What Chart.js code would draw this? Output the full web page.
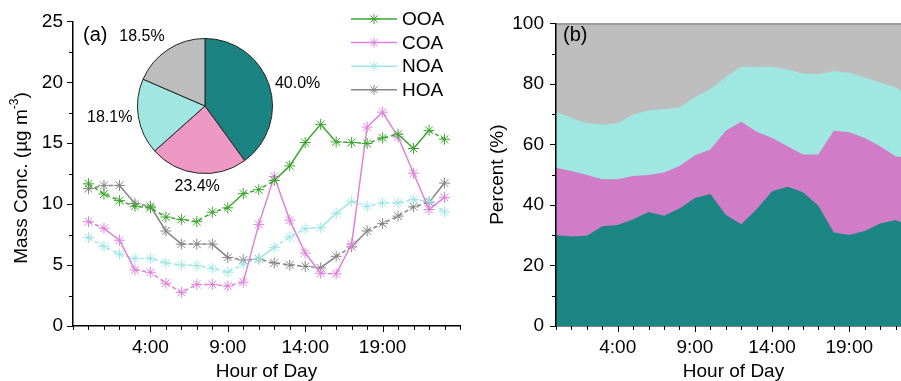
<!DOCTYPE html>
<html><head><meta charset="utf-8">
<script src="https://cdn.jsdelivr.net/npm/chart.js@4.4.1/dist/chart.umd.min.js"></script>
<style>
html,body{margin:0;padding:0;background:#fff;overflow:hidden;width:901px;height:381px;position:relative;}
canvas{position:absolute;display:block}
</style></head><body>
<canvas id="cA" width="470" height="381" style="left:0;top:0"></canvas>
<canvas id="cP" width="138" height="138" style="left:136px;top:37px"></canvas>
<canvas id="cB" width="441" height="381" style="left:480px;top:0"></canvas>
<script>
// ---------- data ----------
const hours = [0,1,2,3,4,5,6,7,8,9,10,11,12,13,14,15,16,17,18,19,20,21,22,23];
const xTickHours = [4,9,14,19];
const seriesNames = ['OOA','COA','NOA','HOA'];
// panel (a): mass concentrations (µg m-3)
const ooa = [11.67,10.83,10.29,9.83,9.70,8.94,8.75,8.56,9.34,9.70,10.86,11.19,11.94,13.14,15.06,16.55,15.11,15.06,14.98,15.44,15.74,14.57,16.06,15.33];
const coa = [8.56,8.02,7.04,4.60,4.41,3.52,2.76,3.41,3.41,3.28,3.60,8.34,12.27,8.69,5.99,4.33,4.28,6.72,16.33,17.55,15.52,12.54,9.56,10.56];
const noa = [7.26,6.53,5.90,5.55,5.55,5.17,5.01,4.96,4.74,4.41,5.09,5.50,6.45,7.31,7.99,8.07,9.24,10.24,9.83,10.10,10.10,10.37,10.24,9.37];
const hoa = [11.27,11.54,11.54,10.05,9.83,7.80,6.72,6.72,6.72,5.63,5.42,5.50,5.17,5.01,4.90,4.77,5.72,6.50,7.80,8.40,9.02,9.78,10.16,11.73];
// pie (average fractions, %)
const pieValues = [40.0, 23.4, 18.1, 18.5];
// panel (b): percent contributions (%)
const pctOOA = [30.1,29.6,29.8,33.0,33.4,35.3,37.7,36.4,38.8,42.3,43.6,36.8,33.6,38.6,44.5,46.0,44.2,39.7,30.9,30.1,31.4,33.9,35.0,33.0];
const pctCOA = [22.2,21.6,20.1,15.5,15.1,14.3,12.2,14.3,14.1,14.1,14.7,27.7,33.9,25.6,17.6,13.4,12.5,17.0,33.6,33.9,30.7,25.5,21.1,22.3];
const pctNOA = [18.4,17.6,17.1,18.1,18.5,20.3,21.4,21.0,19.3,19.2,20.0,17.8,18.2,21.4,23.6,25.4,26.7,26.5,19.8,19.7,20.0,21.1,22.8,20.0];
const pctHOA = [29.3,31.2,33.0,33.4,33.0,30.1,28.7,28.3,27.8,24.4,21.7,17.7,14.3,14.4,14.3,15.2,16.6,16.8,15.7,16.3,17.9,19.5,21.1,24.7];

// ---------- styles ----------
const FONT = "'Liberation Sans', Arial, sans-serif";
const lineColors = ['#3ba62c','#df82dc','#9fe6e6','#858585'];
const pieColors = ['#1b8482','#ee98c4','#a2e6e2','#bdbdbd'];
const areaColors = ['#1b8683','#d07cc7','#a0e6e1','#bebebe'];
Chart.defaults.font.family = FONT;
Chart.defaults.color = '#000';

function range(a,b,s){const r=[];for(let v=a;v<=b+1e-9;v+=s)r.push(Math.round(v*100)/100);return r;}

const tickPlugin = {
  id:'axisTicks',
  afterDraw(chart, args, o){
    const ctx=chart.ctx, xs=chart.scales.x, ys=chart.scales.y;
    ctx.save(); ctx.strokeStyle='#000'; ctx.lineWidth=1; ctx.setLineDash([]);
    ctx.beginPath();
    o.xMinor.forEach(v=>{const px=Math.round(xs.getPixelForValue(v))+0.5;const len=o.xMajor.includes(v)?6:4;ctx.moveTo(px,xs.top);ctx.lineTo(px,xs.top+len);});
    o.yMinor.forEach(v=>{const py=Math.round(ys.getPixelForValue(v))+0.5;const len=(Math.abs(v/o.yMajorStep-Math.round(v/o.yMajorStep))<1e-6)?6:4;ctx.moveTo(ys.right,py);ctx.lineTo(ys.right-len,py);});
    ctx.stroke();
    if(o.topLine){ctx.strokeStyle='#666';ctx.beginPath();ctx.moveTo(chart.chartArea.left,chart.chartArea.top+0.5);ctx.lineTo(chart.chartArea.right,chart.chartArea.top+0.5);ctx.stroke();}
    ctx.font='20px '+FONT; ctx.fillStyle='#000'; ctx.textBaseline='middle'; ctx.textAlign='left';
    ctx.fillText(o.panel, o.panelX, 35);
    ctx.restore();
  }
};

// ---------- pie ----------
const pieChart = new Chart(document.getElementById('cP'), {
  type:'pie',
  data:{labels:seriesNames, datasets:[{data:pieValues, backgroundColor:pieColors, borderColor:'#222', borderWidth:1}]},
  options:{responsive:false, animation:false, layout:{padding:1},
    plugins:{legend:{display:false}, tooltip:{enabled:false}}}
});

// ---------- panel (a) ----------
const aExtras = {
  id:'aExtras',
  afterDraw(chart){
    const ctx=chart.ctx;
    ctx.save();
    // y title with superscript
    ctx.fillStyle='#000'; ctx.translate(22,178); ctx.rotate(-Math.PI/2);
    const main='Mass Conc. (µg m', sup='-3', end=')';
    ctx.font='19px '+FONT; const w1=ctx.measureText(main).width, w3=ctx.measureText(end).width;
    ctx.font='12px '+FONT; const w2=ctx.measureText(sup).width;
    let x=-(w1+w2+w3)/2; ctx.textBaseline='middle'; ctx.textAlign='left';
    ctx.font='19px '+FONT; ctx.fillText(main,x,0); x+=w1;
    ctx.font='12px '+FONT; ctx.fillText(sup,x,-7); x+=w2;
    ctx.font='19px '+FONT; ctx.fillText(end,x,0);
    ctx.restore();
    // legend
    ctx.save();
    chart.data.datasets.forEach((ds,i)=>{
      const y=19+i*23.6;
      ctx.strokeStyle=ds.borderColor; ctx.fillStyle=ds.borderColor; ctx.lineWidth=1.5; ctx.setLineDash([]);
      ctx.beginPath(); ctx.moveTo(351,y); ctx.lineTo(397,y); ctx.stroke();
      ctx.lineWidth=1;
      Chart.helpers.drawPoint(ctx,{pointStyle:'star',radius:5,rotation:0,borderWidth:1},374,y);
      ctx.fillStyle='#000'; ctx.font='19px '+FONT; ctx.textBaseline='middle'; ctx.textAlign='left';
      ctx.fillText(ds.label,402,y+1);
    });
    // pie labels from pie geometry
    const pc=document.getElementById('cP'), ac=chart.canvas;
    const ox=pc.offsetLeft-ac.offsetLeft, oy=pc.offsetTop-ac.offsetTop;
    const meta=pieChart.getDatasetMeta(0);
    ctx.font='16px '+FONT; ctx.fillStyle='#000';
    meta.data.forEach((arc,i)=>{
      const p=arc.getProps(['x','y','startAngle','endAngle','outerRadius'],true);
      const mid=(p.startAngle+p.endAngle)/2, c=Math.cos(mid), s=Math.sin(mid);
      const r=p.outerRadius+6;
      const lx=ox+p.x+c*r, ly=oy+p.y+s*r;
      ctx.textAlign = c>0.3?'left':(c<-0.3?'right':'center');
      ctx.textBaseline = s>0.5?'top':(s<-0.5?'bottom':'middle');
      ctx.fillText(pieValues[i].toFixed(1)+'%', lx, ly);
    });
    ctx.restore();
  }
};

const mk = (name,vals,col)=>({
  label:name, data:hours.map((h,i)=>({x:h,y:vals[i]})),
  borderColor:col, backgroundColor:col, pointBorderColor:col, pointBackgroundColor:col,
  pointStyle:'star', pointRadius:5.5, pointBorderWidth:1, borderWidth:1.5, tension:0,
  segment:{borderDash:c=>Math.abs(c.p1.parsed.y-c.p0.parsed.y)<0.9?[4,3]:undefined}
});

new Chart(document.getElementById('cA'), {
  type:'line',
  data:{datasets:[mk('OOA',ooa,lineColors[0]),mk('COA',coa,lineColors[1]),mk('NOA',noa,lineColors[2]),mk('HOA',hoa,lineColors[3])]},
  options:{responsive:false, animation:false,
    layout:{padding:{left:0,top:18,right:10,bottom:0}},
    plugins:{legend:{display:false},tooltip:{enabled:false},
      axisTicks:{xMinor:range(-1,24,1),xMajor:xTickHours,yMinor:range(0,25,2.5),yMajorStep:5,panel:'(a)',panelX:83,topLine:false}},
    scales:{
      x:{type:'linear',min:-1,max:24,
        afterFit:s=>{s.height=55;},
        afterBuildTicks:s=>{s.ticks=xTickHours.map(v=>({value:v}));},
        grid:{display:true,drawOnChartArea:false,drawTicks:false},
        border:{display:true,color:'#000',width:1.5},
        ticks:{autoSkip:false,maxRotation:0,padding:10,font:{size:19},color:'#000',callback:v=>v+':00'},
        title:{display:true,text:'Hour of Day',font:{size:19,lineHeight:1},padding:{top:0,bottom:0},color:'#000'}},
      y:{min:0,max:25,
        afterFit:s=>{s.width=73;},
        grid:{display:true,drawOnChartArea:false,drawTicks:false},
        border:{display:true,color:'#000',width:1.5},
        ticks:{stepSize:5,padding:10,font:{size:19},color:'#000'}}
    }},
  plugins:[tickPlugin,aExtras]
});

// ---------- panel (b) ----------
const mkA = (name,vals,col)=>({label:name,data:hours.map((h,i)=>({x:h,y:vals[i]})),
  backgroundColor:col,borderColor:col,borderWidth:0,pointRadius:0,fill:'origin',tension:0});

new Chart(document.getElementById('cB'), {
  type:'line',
  data:{datasets:[mkA('OOA',pctOOA,areaColors[0]),mkA('COA',pctCOA,areaColors[1]),mkA('NOA',pctNOA,areaColors[2]),mkA('HOA',pctHOA,areaColors[3])]},
  options:{responsive:false, animation:false,
    layout:{padding:{left:0,top:18,right:10,bottom:0}},
    plugins:{legend:{display:false},tooltip:{enabled:false},
      axisTicks:{xMinor:range(0,23,1),xMajor:xTickHours,yMinor:range(0,100,10),yMajorStep:20,panel:'(b)',panelX:83,topLine:true}},
    scales:{
      x:{type:'linear',min:0,max:23,
        afterFit:s=>{s.height=55;},
        afterBuildTicks:s=>{s.ticks=xTickHours.map(v=>({value:v}));},
        grid:{display:true,drawOnChartArea:false,drawTicks:false},
        border:{display:true,color:'#000',width:1.5},
        ticks:{autoSkip:false,maxRotation:0,padding:10,font:{size:19},color:'#000',callback:v=>v+':00'},
        title:{display:true,text:'Hour of Day',font:{size:19,lineHeight:1},padding:{top:0,bottom:0},color:'#000'}},
      y:{min:0,max:100,stacked:true,
        afterFit:s=>{s.width=76;},
        grid:{display:true,drawOnChartArea:false,drawTicks:false},
        border:{display:true,color:'#000',width:1.5,z:1},
        ticks:{stepSize:20,padding:12,font:{size:19},color:'#000'},
        title:{display:true,text:'Percent (%)',font:{size:19,lineHeight:1},padding:{top:8.5,bottom:0},color:'#000'}}
    }},
  plugins:[tickPlugin]
});
</script>
</body></html>
